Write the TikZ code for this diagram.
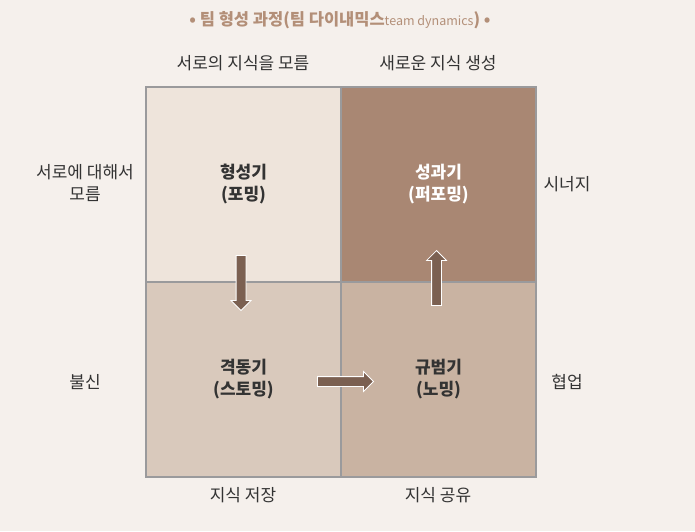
\documentclass[tikz,border=0pt]{standalone}
\usepackage{fontspec}
\setmainfont{Noto Sans CJK KR}
\usetikzlibrary{shapes.arrows,positioning}
\definecolor{bgpaper}{HTML}{F5F0EC}
\definecolor{cellA}{HTML}{EEE4DB}
\definecolor{cellB}{HTML}{A98773}
\definecolor{cellC}{HTML}{D9C9BC}
\definecolor{cellD}{HTML}{C9B3A2}
\definecolor{gridline}{HTML}{9A9A9C}
\definecolor{arrowfill}{HTML}{7B6051}
\definecolor{titletext}{HTML}{B38F78}
\definecolor{labeltext}{HTML}{333333}
\tikzset{
cell/.style={draw=gridline, line width=2pt, minimum size=195pt, inner sep=0pt, outer sep=0pt, align=center, font=\fontsize{17}{22}\selectfont\bfseries, text=labeltext}, % one square of the grid
side/.style={align=center, font=\fontsize{17}{22}\selectfont, text=labeltext}, % labels around the grid
flow/.style={single arrow, draw=white, line width=0.8pt, fill=arrowfill, inner xsep=0pt, inner ysep=4.5pt, single arrow head extend=5pt, minimum height=55pt}, % block arrows
}
\begin{document}
\begin{tikzpicture}[x=1pt,y=-1pt]
\fill[bgpaper] (0,0) rectangle (695,531);
\useasboundingbox (0,0) rectangle (695,531);
\node[text=titletext, font=\fontsize{16.5}{18}\selectfont\bfseries] (title) at (340,20) {• 팀 형성 과정(팀 다이내믹스{\fontsize{12.5}{13}\selectfont\mdseries team dynamics})~•};
\node[cell, fill=cellA] (form) at (243.5,184.5) {형성기\\(포밍)};
\node[cell, fill=cellB, right=0pt of form, text=white] (perf) {성과기\\(퍼포밍)};
\node[cell, fill=cellC, below=0pt of form] (storm) {격동기\\(스토밍)};
\node[cell, fill=cellD, right=0pt of storm] (norm) {규범기\\(노밍)};
\node[side] (top1) at (243,63) {서로의 지식을 모름};
\node[side] (top2) at (438,63) {새로운 지식 생성};
\node[side] (left1) at (85,183) {서로에 대해서\\모름};
\node[side] (left2) at (85,382) {불신};
\node[side] (right1) at (567,184) {시너지};
\node[side] (right2) at (567,382) {협업};
\node[side] (bot1) at (243,495) {지식 저장};
\node[side] (bot2) at (438,495) {지식 공유};
\node[flow, rotate=-90] (down) at (241,280.5) {};
\node[flow, rotate=90] (up) at (436.5,280.5) {};
\node[flow, minimum height=56pt] (across) at (343,381.5) {};
\end{tikzpicture}
\end{document}
